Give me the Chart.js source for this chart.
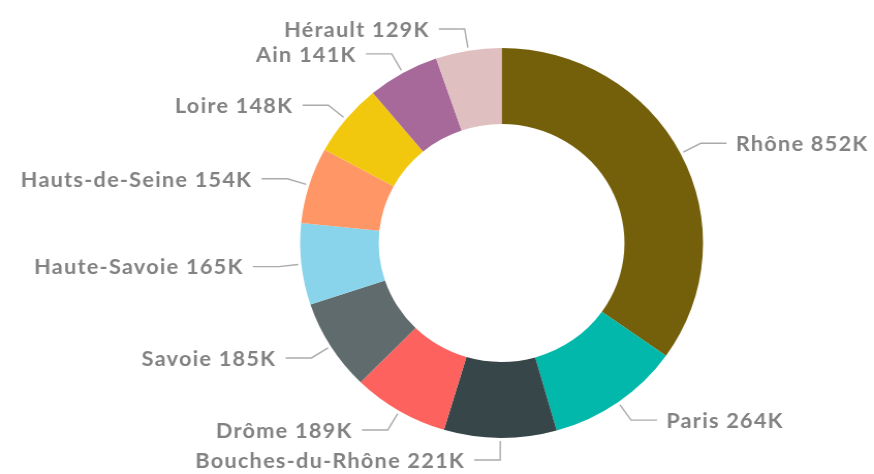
<!DOCTYPE html>
<html>
<head>
<meta charset="utf-8">
<script src="https://cdn.jsdelivr.net/npm/chart.js@4"></script>
<style>
  html, body { margin: 0; padding: 0; background: #fff; }
  #donut { display: block; }
</style>
</head>
<body>
<!-- drawn a bit narrower then stretched, the source picture is slightly wide -->
<canvas id="donut" width="846" height="474" style="width:874px;height:474px"></canvas>
<script>
// departements and their values (thousands)
const labels = ['Rhône', 'Paris', 'Bouches-du-Rhône', 'Drôme', 'Savoie', 'Haute-Savoie', 'Hauts-de-Seine', 'Loire', 'Ain', 'Hérault'];
const values = [852, 264, 221, 189, 185, 165, 154, 148, 141, 129];
const colours = ['#745F0A', '#01B8AA', '#374649', '#FD625E', '#5F6B6D', '#8AD4EB', '#FE9666', '#F2C80F', '#A66999', '#DFBFBF'];

// draws the "name 123K" labels with a bent leader line
const outsideLabels = {
    id: 'outsideLabels',
    afterDraw(chart) {
        const ctx = chart.ctx;
        const meta = chart.getDatasetMeta(0);
        ctx.save();
        ctx.font = 'bold 21px Lato';
        ctx.letterSpacing = '1.2px';
        ctx.textBaseline = 'middle';
        meta.data.forEach(function (arc, i) {
            const p = arc.getProps(['x', 'y', 'startAngle', 'endAngle', 'outerRadius'], true);
            const mid = (p.startAngle + p.endAngle) / 2;
            const r1 = p.outerRadius + 3;
            const r2 = p.outerRadius + 22;
            const x1 = p.x + Math.cos(mid) * r1, y1 = p.y + Math.sin(mid) * r1;
            const x2 = p.x + Math.cos(mid) * r2, y2 = p.y + Math.sin(mid) * r2;
            const right = Math.cos(mid) >= 0;
            const x3 = right ? x2 + 25 : x2 - 25;
            ctx.strokeStyle = '#aaaaaa';
            ctx.lineWidth = 1.4;
            ctx.beginPath();
            ctx.moveTo(x1, y1);
            ctx.lineTo(x2, y2);
            ctx.lineTo(x3, y2);
            ctx.stroke();
            ctx.fillStyle = '#828282';
            ctx.textAlign = right ? 'left' : 'right';
            ctx.fillText(labels[i] + ' ' + values[i] + 'K', right ? x3 + 9 : x3 - 9, y2 + 1);
        });
        ctx.restore();
    }
};

new Chart(document.getElementById('donut'), {
    type: 'doughnut',
    data: {
        labels: labels,
        datasets: [{
            data: values,
            backgroundColor: colours,
            borderWidth: 0
        }]
    },
    options: {
        responsive: false,
        devicePixelRatio: 1,
        animation: false,
        cutout: '61%',
        layout: { padding: { top: 48, bottom: 36, left: 200, right: 75 } },
        plugins: {
            legend: { display: false },
            tooltip: { enabled: false }
        }
    },
    plugins: [outsideLabels]
});
</script>
</body>
</html>
